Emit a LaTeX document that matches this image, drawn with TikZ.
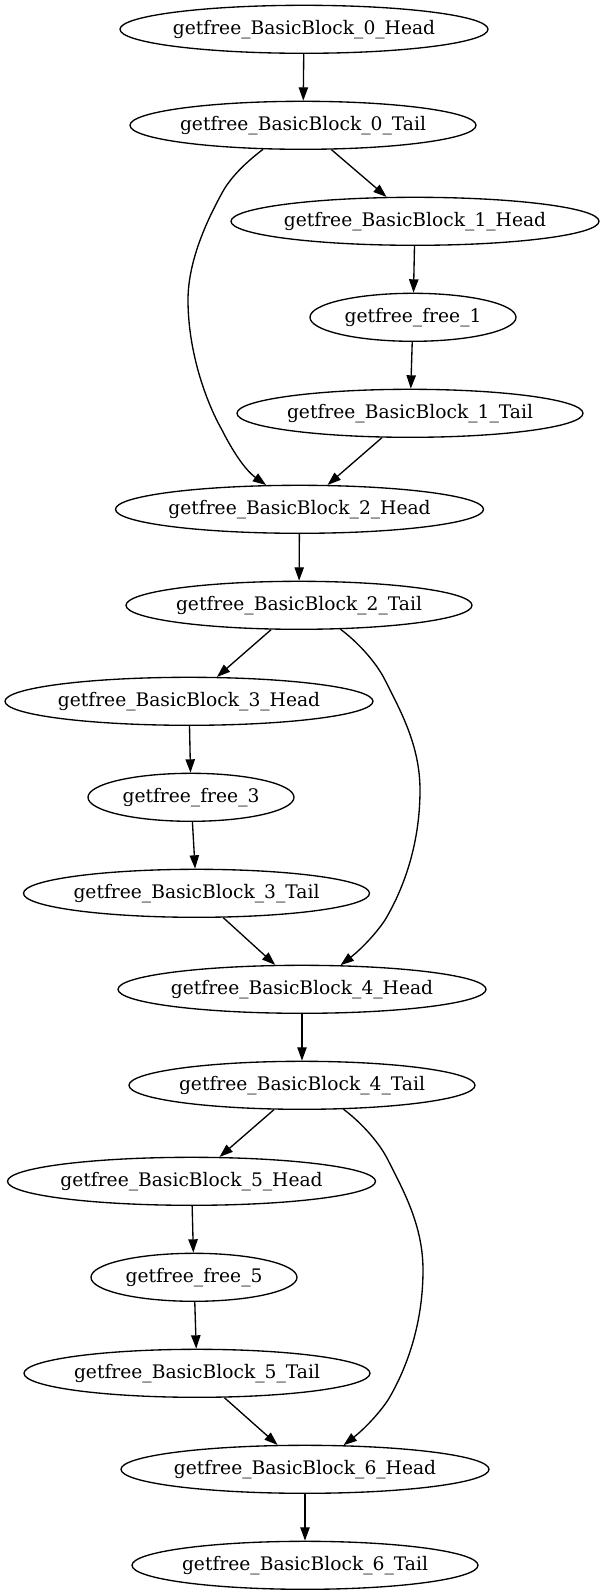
\documentclass[tikz,border=0pt]{standalone}
\usepackage{fontspec}
\setmainfont{DejaVu Serif}
\usetikzlibrary{shapes.geometric,arrows.meta}
\newcommand{\lb}[1]{\makebox[100pt]{#1}}
\begin{document}
\begin{tikzpicture}[x=0.75pt,y=-0.75pt,
  nd/.style={draw, ellipse, inner sep=0pt, line width=1pt, font=\fontsize{14pt}{16pt}\selectfont},
  hd/.style={nd, minimum width=276pt, minimum height=36pt},
  tl/.style={nd, minimum width=259.5pt, minimum height=36pt},
  fr/.style={nd, minimum width=154.5pt, minimum height=36pt},
  edge/.style={-{Triangle[length=10pt,width=7pt]}, line width=1pt}]
\useasboundingbox (0,0) rectangle (605,1595);
\node[hd] (b0h) at (304,29.3)   {\lb{getfree\_BasicBlock\_0\_Head}};
\node[tl] (b0t) at (303,125.3)  {\lb{getfree\_BasicBlock\_0\_Tail}};
\node[hd] (b1h) at (415,221.3)  {\lb{getfree\_BasicBlock\_1\_Head}};
\node[fr] (f1)  at (413,317.3)  {\lb{getfree\_free\_1}};
\node[tl] (b1t) at (410,413.3)  {\lb{getfree\_BasicBlock\_1\_Tail}};
\node[hd] (b2h) at (299.5,509.3) {\lb{getfree\_BasicBlock\_2\_Head}};
\node[tl] (b2t) at (299,605.3)  {\lb{getfree\_BasicBlock\_2\_Tail}};
\node[hd] (b3h) at (189,701.3)  {\lb{getfree\_BasicBlock\_3\_Head}};
\node[fr] (f3)  at (191,797.3)  {\lb{getfree\_free\_3}};
\node[tl] (b3t) at (196.5,893.3) {\lb{getfree\_BasicBlock\_3\_Tail}};
\node[hd] (b4h) at (302,989.3)  {\lb{getfree\_BasicBlock\_4\_Head}};
\node[tl] (b4t) at (302,1085.3) {\lb{getfree\_BasicBlock\_4\_Tail}};
\node[hd] (b5h) at (191.5,1181.3) {\lb{getfree\_BasicBlock\_5\_Head}};
\node[fr] (f5)  at (194,1277.3) {\lb{getfree\_free\_5}};
\node[tl] (b5t) at (197,1373.3) {\lb{getfree\_BasicBlock\_5\_Tail}};
\node[hd] (b6h) at (305,1469.3) {\lb{getfree\_BasicBlock\_6\_Head}};
\node[tl] (b6t) at (305,1565.3) {\lb{getfree\_BasicBlock\_6\_Tail}};

\draw[edge] (b0h) -- (b0t);
\draw[edge] (b0t) -- (b1h);
\draw[edge] (b1h) -- (f1);
\draw[edge] (f1) -- (b1t);
\draw[edge] (b1t) -- (b2h);
\draw[edge] (b2h) -- (b2t);
\draw[edge] (b2t) -- (b3h);
\draw[edge] (b3h) -- (f3);
\draw[edge] (f3) -- (b3t);
\draw[edge] (b3t) -- (b4h);
\draw[edge] (b4h) -- (b4t);
\draw[edge] (b4t) -- (b5h);
\draw[edge] (b5h) -- (f5);
\draw[edge] (f5) -- (b5t);
\draw[edge] (b5t) -- (b6h);
\draw[edge] (b6h) -- (b6t);

\draw[edge] (b0t.211) .. controls (245,163) and (230,178) .. (222,193)
  .. controls (210,215) and (188,258) .. (188,300)
  .. controls (188,350) and (205,400) .. (222,430)
  .. controls (232,450) and (245,470) .. (b2h.144);
\draw[edge] (b2t.-30) .. controls (355,640) and (375,660) .. (385,680)
  .. controls (400,710) and (420,745) .. (420,790)
  .. controls (420,850) and (400,895) .. (385,920)
  .. controls (375,935) and (360,950) .. (b4h.32);
\draw[edge] (b4t.-30) .. controls (358,1120) and (378,1140) .. (388,1160)
  .. controls (403,1190) and (423,1225) .. (423,1270)
  .. controls (423,1330) and (403,1375) .. (388,1400)
  .. controls (378,1415) and (363,1430) .. (b6h.32);
\end{tikzpicture}
\end{document}
